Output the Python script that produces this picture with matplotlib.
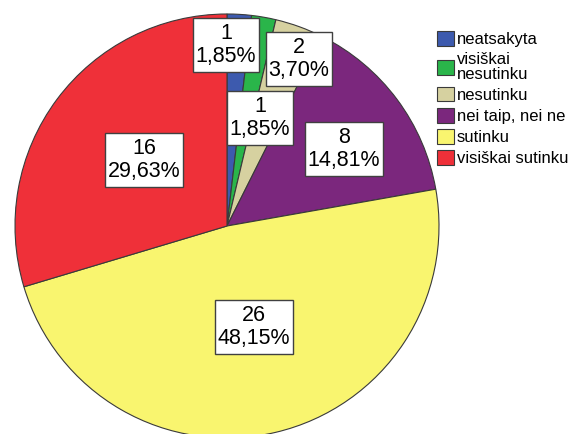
import matplotlib.pyplot as plt
from matplotlib.patches import Rectangle

plt.rcParams['font.family'] = ['Liberation Sans', 'DejaVu Sans']

W, H = 576, 434

categories = ['neatsakyta', 'visiškai\nnesutinku', 'nesutinku',
              'nei taip, nei ne', 'sutinku', 'visiškai sutinku']
counts = [1, 1, 2, 8, 26, 16]
colors = ['#3d5aae', '#2ab54a', '#d6d1a0', '#7b277d', '#f9f56f', '#ef3039']

# label box centres in pixels (x, y from top)
label_pos = [(226, 45), (260, 118), (299, 59), (344, 149), (254, 327), (144, 160)]

fig = plt.figure(figsize=(W / 100, H / 100), dpi=100)
ax = fig.add_axes([0, 0, 1, 1])

wedges, _ = ax.pie(counts, colors=colors, startangle=90, counterclock=False,
                   center=(227, H - 226), radius=212, frame=True,
                   wedgeprops=dict(edgecolor='#3a3a3a', linewidth=0.8))
ax.set_xlim(0, W)
ax.set_ylim(0, H)
ax.axis('off')

total = sum(counts)
texts = []
for n, (x, y) in zip(counts, label_pos):
    pct = f'{100 * n / total:.2f}'.replace('.', ',')
    t = ax.text(x, H - y, f'{n}\n{pct}%', ha='center', va='center',
                fontsize=15.5, linespacing=1.12, zorder=5)
    texts.append(t)

fig.canvas.draw()
r = fig.canvas.get_renderer()
for t in texts:
    bb = t.get_window_extent(r)
    ax.add_patch(Rectangle((bb.x0 - 3, bb.y0 - 5), bb.width + 6, bb.height + 10,
                           facecolor='white', edgecolor='#404040', linewidth=1,
                           zorder=4))

leg = ax.legend(wedges, categories, loc='upper left',
                bbox_to_anchor=(437 / W, 1 - 31 / H), frameon=False,
                fontsize=12, handlelength=1.0, handleheight=1.0,
                handletextpad=0.2, labelspacing=0.3, borderpad=0,
                borderaxespad=0)
for txt in leg.get_texts():
    txt.set_linespacing(0.95)

fig.savefig('out.png', dpi=100)
